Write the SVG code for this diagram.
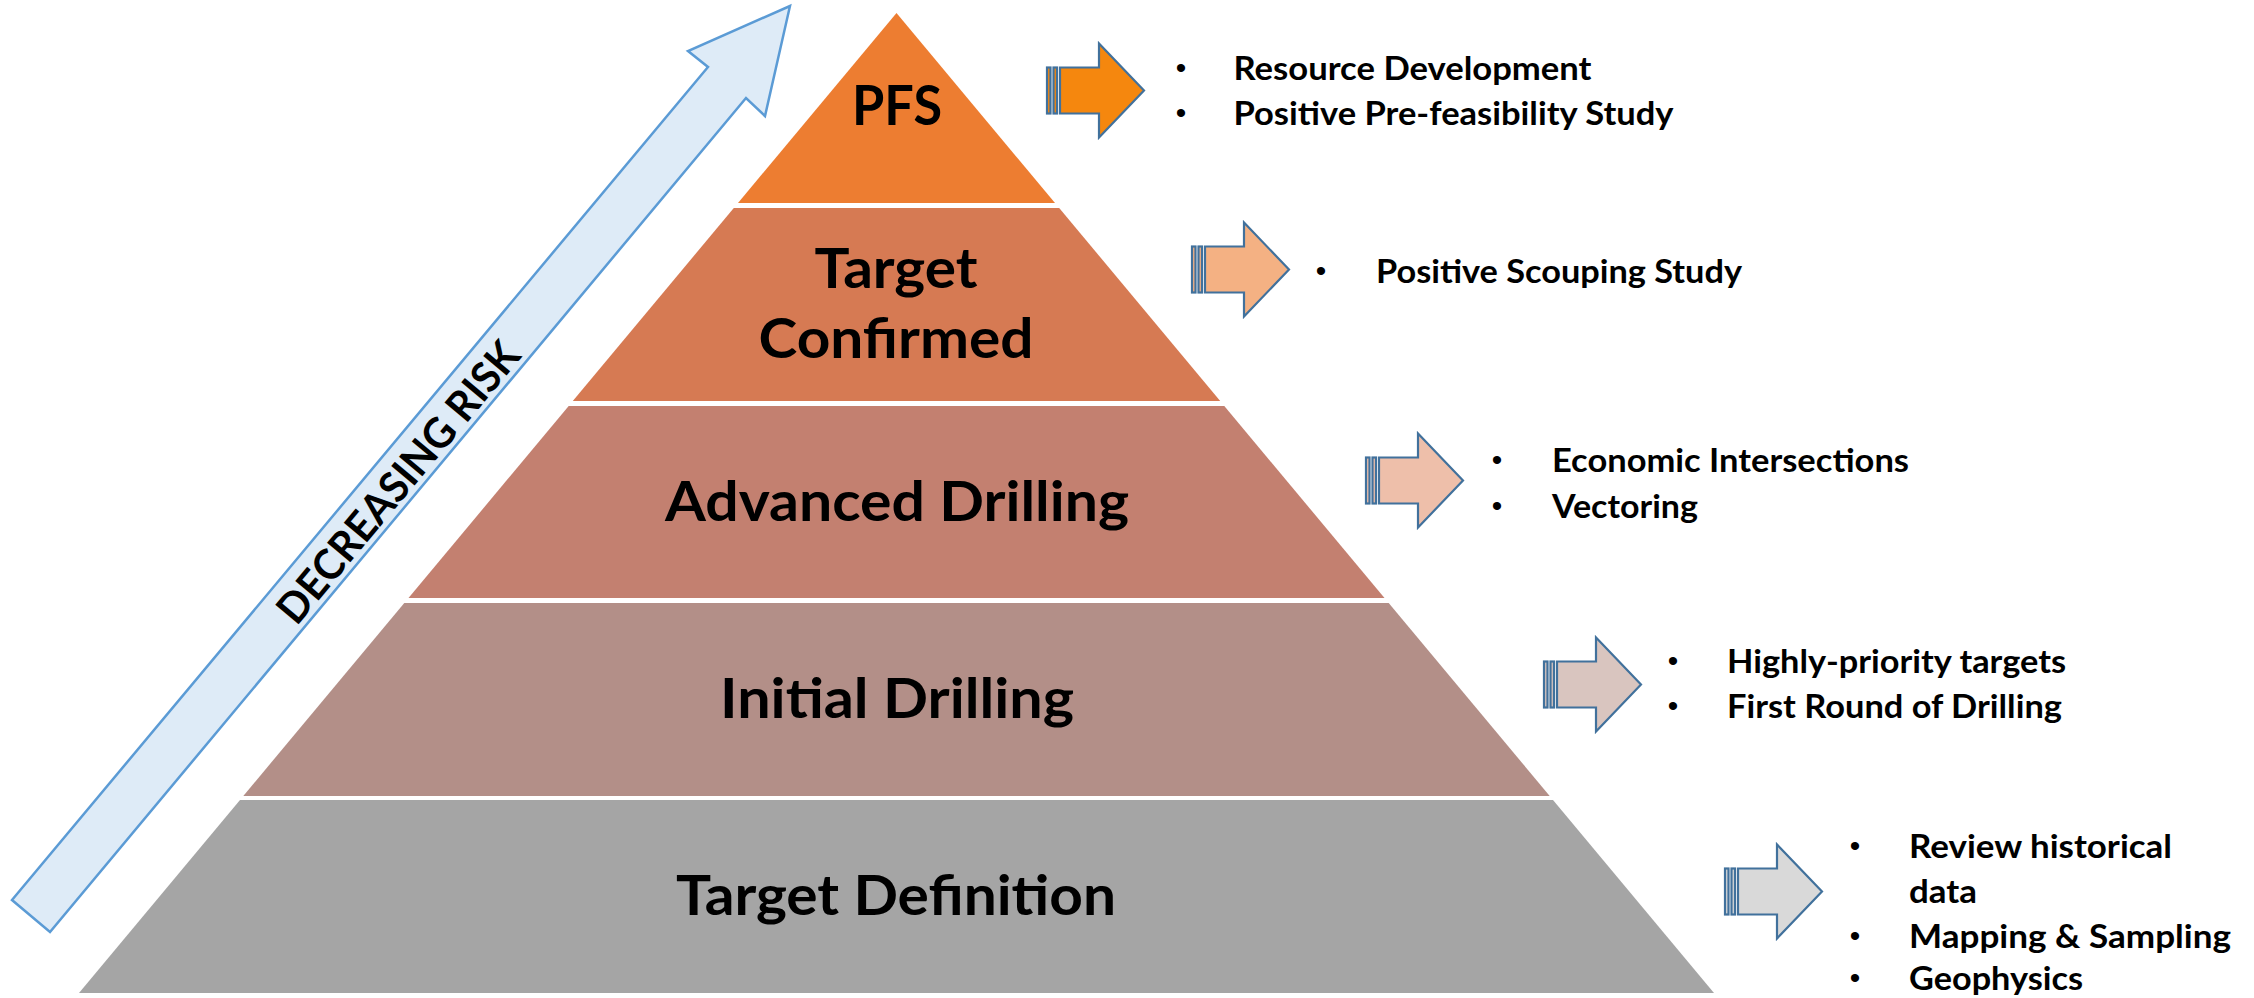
<svg xmlns="http://www.w3.org/2000/svg" xmlns:xlink="http://www.w3.org/1999/xlink" width="2254" height="998" viewBox="0 0 2254 998">
  <style>
    .lbl { font-family: Lato, "Liberation Sans", "DejaVu Sans", sans-serif; font-weight: 700; font-size: 56px; fill: #000; text-anchor: middle; }
    .item { font-family: Lato, "Liberation Sans", "DejaVu Sans", sans-serif; font-weight: 700; font-size: 32px; fill: #000; }
    .bul { font-family: "Liberation Sans", "DejaVu Sans", sans-serif; font-weight: 400; font-size: 30px; fill: #000; text-anchor: middle; }
    .risk { font-family: Lato, "Liberation Sans", "DejaVu Sans", sans-serif; font-weight: 700; font-size: 42px; fill: #000; text-anchor: middle; }
    .blk { stroke: #41719C; stroke-width: 2.2; stroke-linejoin: miter; }
  </style>
  <defs>
    <g id="striped-arrow" class="blk">
      <rect x="0" y="-23" width="3.5" height="46"/>
      <rect x="6.5" y="-23" width="3.5" height="46"/>
      <path d="M13,-23 H52 V-47 L97,0 L52,47 V23 H13 Z"/>
    </g>
  </defs>
  <rect width="2254" height="998" fill="#ffffff"/>

  <g id="risk-arrow">
    <polygon points="12,900 708,67 688,51 790,6 765,116 746,98 50,932" fill="#DEEBF7" stroke="#5B9BD5" stroke-width="2.5" stroke-linejoin="miter"/>
    <text class="risk" transform="translate(398,482) rotate(-50.1)" y="15" textLength="352" lengthAdjust="spacingAndGlyphs">DECREASING RISK</text>
  </g>

  <g id="layer-pfs">
    <polygon points="896.5,13 1055,203 738,203" fill="#ED7D31"/>
    <text class="lbl" x="897" y="125" textLength="90" lengthAdjust="spacingAndGlyphs">PFS</text>
  </g>
  <g id="layer-target-confirmed">
    <polygon points="733.8,208 1059.2,208 1220.2,401 572.8,401" fill="#D67A53"/>
    <text class="lbl" x="896" y="288" textLength="163" lengthAdjust="spacingAndGlyphs">Target</text>
    <text class="lbl" x="896" y="358" textLength="275" lengthAdjust="spacingAndGlyphs">Confirmed</text>
  </g>
  <g id="layer-advanced-drilling">
    <polygon points="568.7,406 1224.3,406 1384.5,598 408.5,598" fill="#C38070"/>
    <text class="lbl" x="897" y="521" textLength="464" lengthAdjust="spacingAndGlyphs">Advanced Drilling</text>
  </g>
  <g id="layer-initial-drilling">
    <polygon points="404.3,603 1388.7,603 1549.7,796 243.3,796" fill="#B38F88"/>
    <text class="lbl" x="897" y="718" textLength="354" lengthAdjust="spacingAndGlyphs">Initial Drilling</text>
  </g>
  <g id="layer-target-definition">
    <polygon points="240,800 1553,800 1714,993 79,993" fill="#A5A5A5"/>
    <text class="lbl" x="896" y="915" textLength="440" lengthAdjust="spacingAndGlyphs">Target Definition</text>
  </g>

  <g id="connectors">
    <use xlink:href="#striped-arrow" href="#striped-arrow" transform="translate(1047,90.5)" fill="#F5870E"/>
    <use xlink:href="#striped-arrow" href="#striped-arrow" transform="translate(1192,269.5)" fill="#F4B183"/>
    <use xlink:href="#striped-arrow" href="#striped-arrow" transform="translate(1366,480.5)" fill="#EEBFAA"/>
    <use xlink:href="#striped-arrow" href="#striped-arrow" transform="translate(1544,684.5)" fill="#D9C5BF"/>
    <use xlink:href="#striped-arrow" href="#striped-arrow" transform="translate(1725,891.5)" fill="#D9D9D9"/>
  </g>

  <g id="list-pfs">
    <text class="bul" x="1181" y="78">•</text>
    <text class="item" x="1233.5" y="80" textLength="358" lengthAdjust="spacingAndGlyphs">Resource Development</text>
    <text class="bul" x="1181" y="123">•</text>
    <text class="item" x="1233.5" y="125" textLength="440" lengthAdjust="spacingAndGlyphs">Positive Pre-feasibility Study</text>
  </g>
  <g id="list-target-confirmed">
    <text class="bul" x="1321" y="281">•</text>
    <text class="item" x="1376" y="283" textLength="366" lengthAdjust="spacingAndGlyphs">Positive Scouping Study</text>
  </g>
  <g id="list-advanced-drilling">
    <text class="bul" x="1497" y="470">•</text>
    <text class="item" x="1552" y="472" textLength="357" lengthAdjust="spacingAndGlyphs">Economic Intersections</text>
    <text class="bul" x="1497" y="516">•</text>
    <text class="item" x="1552" y="518" textLength="146" lengthAdjust="spacingAndGlyphs">Vectoring</text>
  </g>
  <g id="list-initial-drilling">
    <text class="bul" x="1673" y="671">•</text>
    <text class="item" x="1727" y="673" textLength="339" lengthAdjust="spacingAndGlyphs">Highly-priority targets</text>
    <text class="bul" x="1673" y="716">•</text>
    <text class="item" x="1727" y="718" textLength="335" lengthAdjust="spacingAndGlyphs">First Round of Drilling</text>
  </g>
  <g id="list-target-definition">
    <text class="bul" x="1855" y="856">•</text>
    <text class="item" x="1909" y="858" textLength="263" lengthAdjust="spacingAndGlyphs">Review historical</text>
    <text class="item" x="1909" y="903" textLength="68" lengthAdjust="spacingAndGlyphs">data</text>
    <text class="bul" x="1855" y="946">•</text>
    <text class="item" x="1909" y="948" textLength="322" lengthAdjust="spacingAndGlyphs">Mapping &amp; Sampling</text>
    <text class="bul" x="1855" y="988">•</text>
    <text class="item" x="1909" y="990" textLength="174" lengthAdjust="spacingAndGlyphs">Geophysics</text>
  </g>
</svg>
